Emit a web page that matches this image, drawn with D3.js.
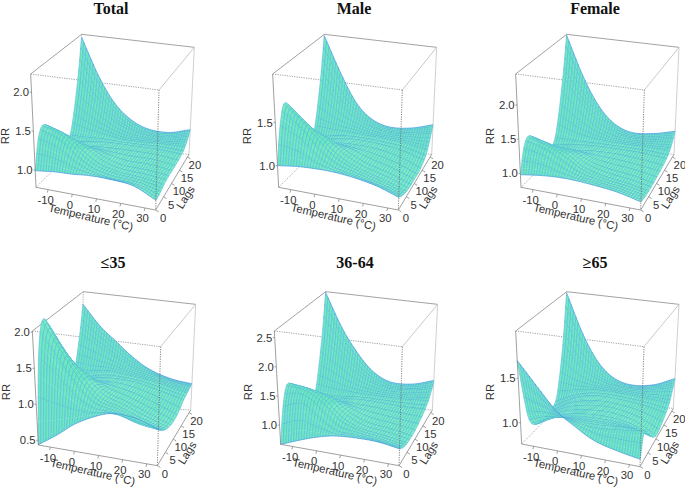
<!DOCTYPE html>
<html><head><meta charset="utf-8">
<script src="https://cdn.jsdelivr.net/npm/d3@7/dist/d3.min.js"></script>
<style>html,body{margin:0;padding:0;background:#fff}svg{display:block}text{font-family:"Liberation Sans",Arial,sans-serif;fill:#333}</style>
</head><body><svg id="c" width="685" height="487"></svg>
<script>
// ---- values ----
const tempNodes=[-15,-7,0,7,15,25,34];
const lagNodes=[0,2,4,7,10,13,16,18,20,21];
const ribLags=[0,1,2,3,4,5,6.5,8,10,12,14,16,17,18,18.5,19,19.5,20,20.25,20.5,20.75,21];
const tempTicks=[-10,0,10,20,30];
const lagTicks=[0,5,10,15,20];
const titles=["Total","Male","Female","≤35","36-64","≥65"];
const rrTicks=[[1,1.5,2],[1,1.5],[1,1.5,2],[.5,1,1.5,2],[1,1.5,2,2.5],[1,1.5]];
const rrRanges=[[.776,2.236],[.748,2.066],[.795,2.454],[.435,2.018],[.671,2.614],[.76,2.034]];
const totalRR=[
[.99,1.02,1.03,1.05,1.05,1.02,.90],
[1.35,1.27,1.13,1.04,1.0,.98,.90],
[1.47,1.38,1.2,1.06,1.0,.97,.92],
[1.38,1.3,1.2,1.07,.99,.97,.94],
[1.15,1.12,1.1,1.04,.99,.98,.94],
[.95,.98,1.0,1.0,.99,.98,.94],
[.95,.98,1.0,1.0,.99,.98,.95],
[1.15,1.08,1.04,1.0,.99,.99,.98],
[1.68,1.4,1.2,1.08,1.02,1.0,1.05],
[2.2,1.72,1.4,1.2,1.08,1.05,1.11]];
const maleRR=[
[1.0,1.03,1.04,1.04,1.02,.97,.89],
[1.42,1.3,1.13,1.03,.99,.92,.85],
[1.63,1.43,1.22,1.07,.98,.9,.82],
[1.5,1.32,1.22,1.08,.97,.89,.8],
[1.2,1.15,1.1,1.05,.97,.89,.8],
[.95,.98,1.0,.99,.97,.9,.8],
[.9,.96,.99,.99,.97,.92,.84],
[1.05,1.03,1.02,1.0,.98,.95,.9],
[1.55,1.3,1.15,1.05,1.0,1.0,1.03],
[2.05,1.62,1.3,1.12,1.04,1.05,1.11]];
const femaleRR=[
[.98,1.02,1.04,1.04,1.02,.98,.91],
[1.3,1.25,1.13,1.04,1.0,.95,.89],
[1.42,1.33,1.22,1.07,.99,.94,.88],
[1.32,1.25,1.2,1.07,.99,.94,.88],
[1.1,1.1,1.12,1.04,.99,.95,.89],
[.93,.97,1.0,1.0,.99,.95,.9],
[.95,.98,1.0,1.0,.99,.97,.93],
[1.2,1.1,1.05,1.02,1.0,.99,.97],
[1.85,1.5,1.25,1.1,1.03,1.03,1.07],
[2.44,1.85,1.45,1.2,1.08,1.09,1.15]];
const youngRR=[
[.44,.62,.8,.93,1.03,1.02,.92],
[1.6,1.35,1.12,1.0,.98,.88,.84],
[2.05,1.62,1.28,1.05,.97,.85,.78],
[1.9,1.5,1.28,1.06,.96,.83,.72],
[1.5,1.28,1.15,1.03,.95,.82,.70],
[1.1,1.05,1.02,1.0,.95,.84,.72],
[.9,.95,.98,.98,.95,.86,.78],
[1.0,1.0,1.02,.99,.95,.88,.80],
[1.45,1.3,1.17,1.05,.97,.88,.82],
[1.84,1.55,1.36,1.17,1.0,.88,.83]];
const middleRR=[
[.67,.8,.9,.97,1.0,1.0,.95],
[1.25,1.35,1.15,.98,.97,.93,.88],
[1.55,1.5,1.33,1.08,.96,.90,.84],
[1.45,1.42,1.33,1.1,.95,.89,.82],
[1.15,1.2,1.2,1.06,.95,.89,.83],
[.9,.95,1.03,.99,.95,.9,.86],
[.88,.93,.97,.98,.96,.93,.92],
[1.1,1.05,1.02,1.0,.98,.97,.98],
[1.85,1.55,1.3,1.14,1.05,1.05,1.1],
[2.6,2.0,1.6,1.3,1.13,1.12,1.21]];
const olderRR=[
[1.7,1.42,1.2,1.07,.95,.88,.84],
[1.25,1.18,1.1,1.05,1.03,1.05,1.08],
[.95,1.02,1.03,1.03,1.03,1.03,1.0],
[.82,.93,.98,1.0,1.0,.97,.88],
[.8,.92,.97,.99,.99,.93,.80],
[.8,.92,.97,.99,.98,.92,.82],
[.82,.93,.98,.99,.97,.93,.87],
[.95,.98,1.0,1.0,.98,.95,.92],
[1.45,1.2,1.08,1.02,.99,1.0,1.04],
[2.02,1.55,1.25,1.08,1.01,1.03,1.12]];
const panelValues=[totalRR,maleRR,femaleRR,youngRR,middleRR,olderRR];

// ---- layout (box corners of each panel) ----
const offsets=[[0,0],[230,0],[455,0],[0,245],[230,245],[455,245]];
// TFL,TFR,TBR,TBL,BFL,BFR,BBR,BBL in 3x crop units
const boxes=[
[[92,222],[477,270],[583,142],[245,103],[108,562],[467,630],[567,463],[233,437]],
[[128,222],[517,270],[620,142],[283,103],[146,562],[505,630],[605,463],[271,437]],
[[182,222],[568,270],[672,142],[335,103],[198,562],[557,630],[657,463],[323,437]],
[[97,258],[482,305],[587,178],[250,140],[115,600],[472,662],[572,495],[240,475]],
[[133,258],[517,305],[623,178],[287,140],[152,598],[507,662],[607,495],[276,475]],
[[182,258],[567,305],[672,178],[335,140],[200,597],[555,665],[655,490],[325,470]]];
const titlePos=[[111,14.3],[354,14.3],[595,14.3],[113,268],[355,268],[595,268]];
const tempLabelDy=[18.5,18,18,16.5,16.5,16.5];
const rrLabelY=[136,136,136,392,392,392];

const svg=d3.select("#c");
const defs=svg.append("defs");
defs.append("filter").attr("id","soft").attr("x","-5%").attr("y","-5%").attr("width","110%").attr("height","110%")
  .append("feGaussianBlur").attr("stdDeviation",0.4);

// Hermite sampling between the read nodes
function tangents(xs,ys){
  return xs.map((x,i)=>{
    if(i===0) return (ys[1]-ys[0])/(xs[1]-xs[0]);
    if(i===xs.length-1) return (ys[i]-ys[i-1])/(xs[i]-xs[i-1]);
    return (ys[i+1]-ys[i-1])/(xs[i+1]-xs[i-1]);
  });
}
function sample(xs,ys,x){
  const b=d3.bisectRight(xs,x);
  const i=Math.max(0,Math.min(xs.length-2,b-1));
  const m=tangents(xs,ys),h=xs[i+1]-xs[i],t=(x-xs[i])/h;
  const t2=t*t,t3=t2*t;
  return (2*t3-3*t2+1)*ys[i]+(t3-2*t2+t)*h*m[i]+(-2*t3+3*t2)*ys[i+1]+(t3-t2)*h*m[i+1];
}
const lerp=(a,b,t)=>[a[0]+(b[0]-a[0])*t,a[1]+(b[1]-a[1])*t];

const tempGrid=d3.range(46).map(i=>-15+i*49.4/45);
const lagGrid=d3.range(41).map(i=>i*.5).concat([20.25,20.5,20.75,21]);

panelValues.forEach((values,p)=>{
  const [ox,oy]=offsets[p];
  const [TFL,TFR,TBR,TBL,BFL,BFR,BBR,BBL]=boxes[p].map(c=>[ox+c[0]/3,oy+c[1]/3]);
  const uS=d3.scaleLinear().domain([-15,34.4]).range([0,1]);
  const vS=d3.scaleLinear().domain([0,21]).range([0,1]);
  const wS=d3.scaleLinear().domain(rrRanges[p]).range([0,1]);
  const proj=(T,L,R)=>{
    const u=uS(T),v=vS(L),w=wS(R);
    const b=lerp(lerp(BFL,BFR,u),lerp(BBL,BBR,u),v);
    const t=lerp(lerp(TFL,TFR,u),lerp(TBL,TBR,u),v);
    return lerp(b,t,w);
  };
  const g=svg.append("g");
  const seg=(a,b,col,dash,wd)=>g.append("line").attr("x1",a[0]).attr("y1",a[1]).attr("x2",b[0]).attr("y2",b[1])
    .attr("stroke",col).attr("stroke-width",wd||.8).attr("stroke-dasharray",dash||null);
  // back edges
  seg(BFL,BBL,"#888","1.2 1.2",.7); seg(BBL,BBR,"#888","1.2 1.2",.7); seg(BBL,TBL,"#888","1.2 1.2",.7);
  seg(TFL,TBL,"#8a8a8a"); seg(TBL,TBR,"#8a8a8a"); seg(TBR,TFR,"#bbb"); seg(TBR,BBR,"#c4c4c4");
  seg(TFL,TFR,"#777","1.2 1.2",.7);

  // surface: fine sampling of the read nodes
  const columns=tempGrid.map(T=>values.map(r=>sample(tempNodes,r,T)));
  const Z=lagGrid.map(L=>tempGrid.map((T,j)=>sample(lagNodes,columns[j],L)));
  const P=lagGrid.map((L,i)=>tempGrid.map((T,j)=>proj(T,L,Z[i][j])));
  const surf=g.append("g").attr("filter","url(#soft)");
  const pt=a=>a[0].toFixed(2)+","+a[1].toFixed(2);
  for(let i=lagGrid.length-2;i>=0;i--){
    const rib=ribLags.includes(lagGrid[i]);
    for(let j=0;j<tempGrid.length-1;j++){
      const a=P[i][j],b=P[i][j+1],c=P[i+1][j+1],d=P[i+1][j];
      surf.append("path").attr("d",`M${pt(a)}L${pt(b)}L${pt(c)}L${pt(d)}Z`).attr("fill","#6ceabd").attr("stroke","#6ceabd").attr("stroke-width",.15);
      surf.append("path").attr("d",`M${pt(a)}L${pt(d)}M${pt(b)}L${pt(c)}`)
        .attr("fill","none").attr("stroke","#5aabf5").attr("stroke-width",.5);
      if(rib) surf.append("path").attr("d",`M${pt(a)}L${pt(b)}`)
        .attr("fill","none").attr("stroke","#3f80ea").attr("stroke-width",.55);
    }
  }
  // outline of the far sheet edge
  const line=d3.line();
  surf.append("path").attr("d",line(P[lagGrid.length-1])).attr("fill","none").attr("stroke","#4a8cf5").attr("stroke-width",.6);

  // front edges
  seg(TFR,BFR,"#666","1.2 1.2",.8);
  seg(TFL,BFL,"#888"); seg(BFL,BFR,"#888"); seg(BFR,BBR,"#888");

  const txt=(x,y,s,fs,rot,anchor)=>g.append("text").attr("x",x).attr("y",y).attr("font-size",fs)
    .attr("text-anchor",anchor||"middle").attr("dominant-baseline","central")
    .attr("transform",rot?`rotate(${rot} ${x} ${y})`:null).text(s);

  // RR ticks
  rrTicks[p].forEach(r=>{
    const a=lerp(BFL,TFL,wS(r));
    seg(a,[a[0]-1.8,a[1]],"#888");
    txt(a[0]-2.5,a[1],r.toFixed(1),11.3,0,"end");
  });
  // temperature ticks
  tempTicks.forEach(T=>{
    const a=lerp(BFL,BFR,uS(T));
    seg(a,[a[0]-.8,a[1]+3],"#888");
    txt(a[0]-2.5,a[1]+10.5,String(T),11.3);
  });
  // lag ticks
  lagTicks.forEach(L=>{
    const a=lerp(BFR,BBR,vS(L));
    seg(a,[a[0]+3,a[1]+1.8],"#888");
    txt(a[0]+7.5,a[1]+8,String(L),11.3);
  });
  // axis labels
  const tm=lerp(BFL,BFR,.5);
  txt(tm[0]-5,tm[1]+tempLabelDy[p],"Temperature (°C)",11.3,13);
  const lm=lerp(BFR,BBR,.5);
  txt(lm[0]+13,lm[1]+15,"Lags",11.3,-58);
  txt(TFL[0]-26,rrLabelY[p],"RR",11.3,-90);
  // title
  g.append("text").attr("x",titlePos[p][0]).attr("y",titlePos[p][1]).attr("text-anchor","middle")
    .style("font-family","'Liberation Serif','Times New Roman',serif").style("font-weight","bold").style("fill","#111")
    .attr("font-size",16).text(titles[p]);
});
</script></body></html>
